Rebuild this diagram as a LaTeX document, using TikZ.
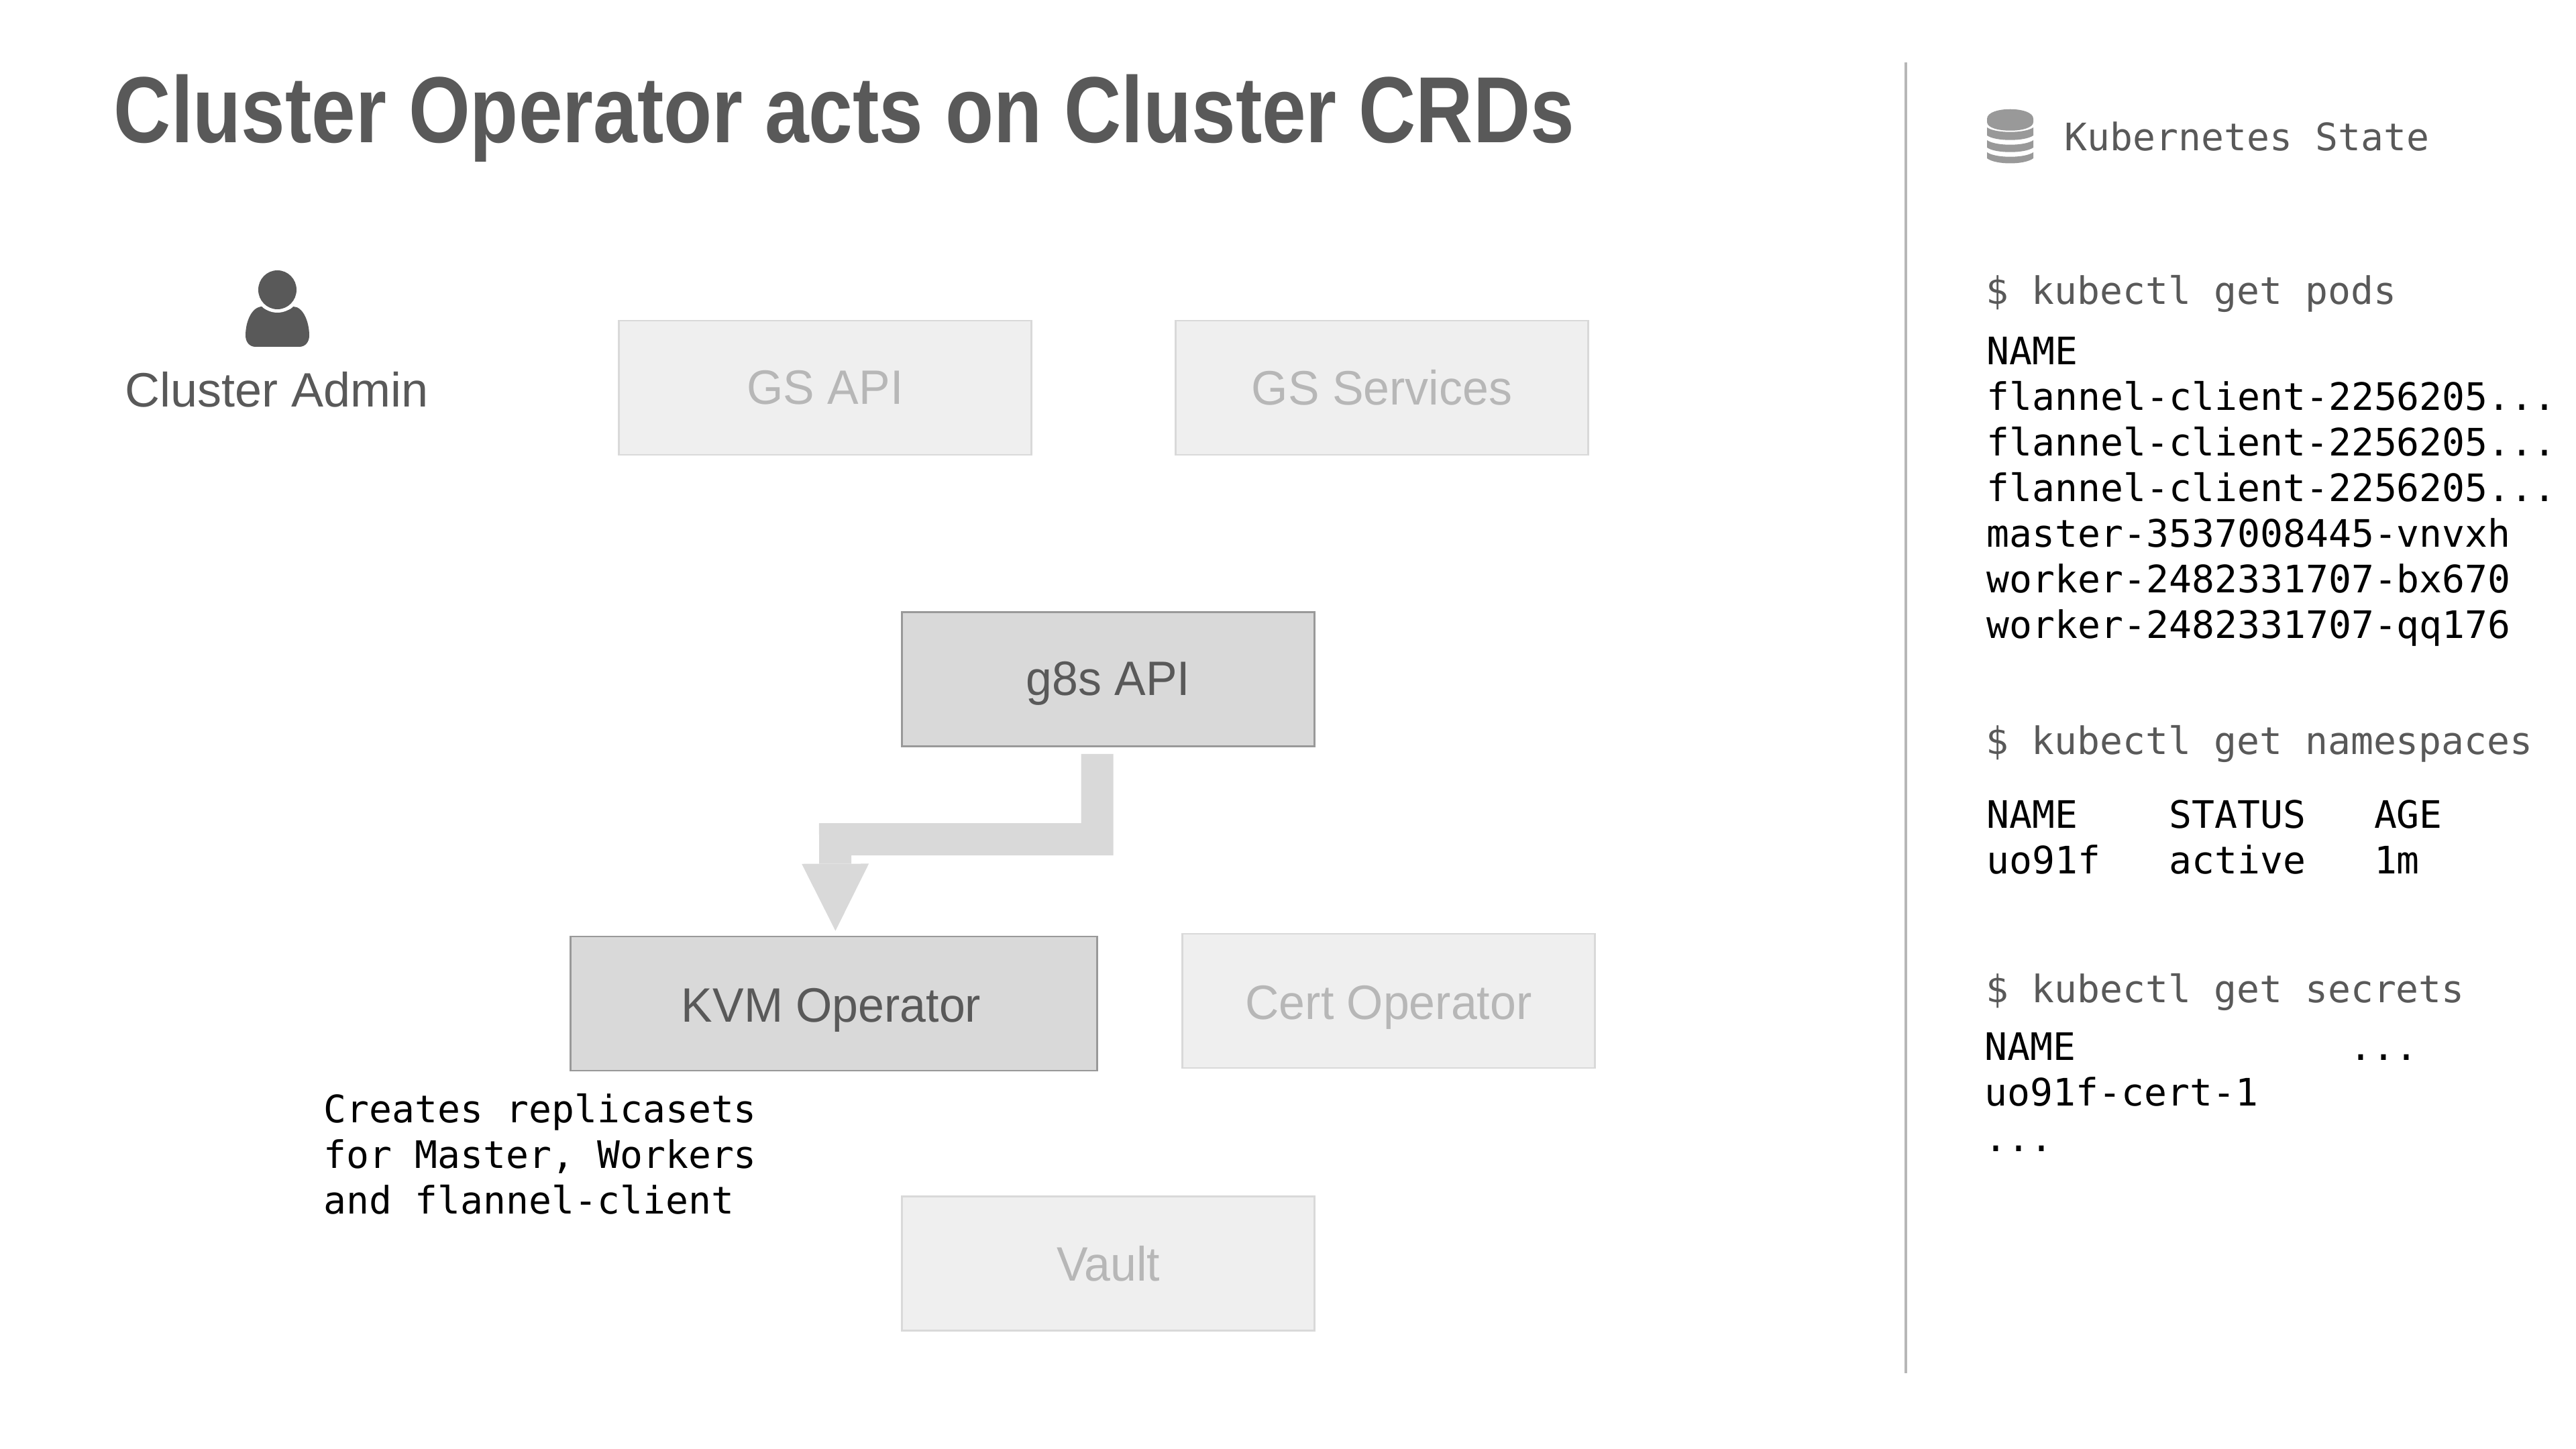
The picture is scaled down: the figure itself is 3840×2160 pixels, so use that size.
\documentclass[tikz,border=0pt]{standalone}
\usepackage{fontspec}
\setmainfont{Liberation Sans}
\newfontfamily\titlef[FakeStretch=0.843]{Liberation Sans}
\newfontfamily\labelf[FakeStretch=0.97]{Liberation Sans}
\newfontfamily\monof{DejaVu Sans Mono}
\usetikzlibrary{arrows.meta}
\definecolor{ink}{HTML}{595959}
\definecolor{soft}{HTML}{B7B7B7}
\definecolor{midfill}{HTML}{D9D9D9}
\definecolor{midline}{HTML}{999999}
\definecolor{lightfill}{HTML}{EFEFEF}
\definecolor{arrowgray}{HTML}{D9D9D9}
\tikzset{
  x=0.25pt,y=-0.25pt,
  boxbase/.style={rectangle,inner sep=0pt,minimum width=153.75pt,minimum height=50pt,
    font=\labelf\fontsize{18}{20}\selectfont,text height=13pt,text depth=1pt},
  activebox/.style={boxbase,draw=midline,fill=midfill,line width=0.7pt,text=ink},
  idlebox/.style={boxbase,draw=midfill,fill=lightfill,line width=0.7pt,text=soft},
  monohead/.style={anchor=base west,inner sep=0pt,text=ink,font=\monof\fontsize{14.1}{17}\selectfont},
  monobody/.style={anchor=base west,inner sep=0pt,text=black,align=left,font=\monof\fontsize{14.1}{17}\selectfont},
  blockarrow/.style={draw=arrowgray,line width=12pt,line join=miter,
    -{Triangle[length=25pt,width=25pt,fill=arrowgray,line width=0pt]}},
}
\begin{document}
\begin{tikzpicture}
\useasboundingbox (0,0) rectangle (3840,2160);
\node[anchor=base west,inner sep=0pt,text=ink,font=\titlef\bfseries\fontsize{35}{40}\selectfont] (title) at (169,213) {Cluster Operator acts on Cluster CRDs};
\node[anchor=base,inner sep=0pt,text=ink,font=\fontsize{18}{20}\selectfont] (admin) at (413,607) {Cluster Admin};
% person icon
\fill[ink] (391,457) .. controls (375,457) and (366,480) .. (366,500) .. controls (366,510) and (372,517) .. (381,517) -- (446,517) .. controls (455,517) and (461,510) .. (461,500) .. controls (461,480) and (452,457) .. (437,457) .. controls (430,467) and (397,467) .. (391,457) -- cycle;
\fill[white] (413.5,432) ellipse (34 and 34);
\fill[ink] (413.5,432) ellipse (28.5 and 29);
\node[idlebox,text height=13.5pt] (gsapi) at (1230,578) {GS API};
\node[idlebox,text height=13.75pt] (gssvc) at (2060,578) {GS Services};
\node[activebox] (g8s) at (1652,1012.5) {g8s API};
\node[activebox,minimum width=196.25pt,text height=14.5pt,text depth=1pt] (kvm) at (1243,1496) {\hspace*{-2pt}KVM Operator};
\node[idlebox,text height=14.5pt] (cert) at (2070,1492) {Cert Operator};
\node[idlebox,text height=14pt] (vault) at (1652,1883.5) {Vault};
\draw[blockarrow] ([xshift=-4.1pt,yshift=-2.5pt]g8s.south) |- (1245,1251) -- ([xshift=0.6pt,yshift=1.75pt]kvm.north);
\node[monobody] (creates) at (482,1809) {Creates replicasets\\for Master, Workers\\and flannel-client};
% divider
\coordinate (dtop) at (2841,93);
\coordinate (dbot) at (2841,2047);
\draw[soft,line width=1pt] (dtop) -- (dbot);
% database icon
\begin{scope}[midline]
\fill (2962,177) .. controls (2962,158) and (3031,158) .. (3031,177) -- (3031,182) .. controls (3031,199) and (2962,199) .. (2962,182) -- cycle;
\fill (2962,190) .. controls (2975,199) and (3018,199) .. (3031,190) -- (3031,202) .. controls (3018,211) and (2975,211) .. (2962,202) -- cycle;
\fill (2962,209) .. controls (2975,218) and (3018,218) .. (3031,209) -- (3031,220) .. controls (3018,229) and (2975,229) .. (2962,220) -- cycle;
\fill (2962,227) .. controls (2975,236) and (3018,236) .. (3031,227) -- (3031,236) .. controls (3018,246) and (2975,246) .. (2962,236) -- cycle;
\end{scope}
\node[monohead] (state) at (3077,225) {Kubernetes State};
\node[monohead] (cmdpods) at (2960,454) {\$ kubectl get pods};
\node[monobody] (pods) at (2961,951) {NAME\\flannel-client-2256205...\\flannel-client-2256205...\\flannel-client-2256205...\\master-3537008445-vnvxh\\worker-2482331707-bx670\\worker-2482331707-qq176};
\node[monohead] (cmdns) at (2960,1124) {\$ kubectl get namespaces};
\node[monobody] (ns) at (2961,1302) {NAME~~~~STATUS~~~AGE\\uo91f~~~active~~~1m};
\node[monohead] (cmdsec) at (2960,1494) {\$ kubectl get secrets};
\node[monobody] (sec) at (2958,1716) {NAME~~~~~~~~~~~~...\\uo91f-cert-1\\...};
\end{tikzpicture}
\end{document}
